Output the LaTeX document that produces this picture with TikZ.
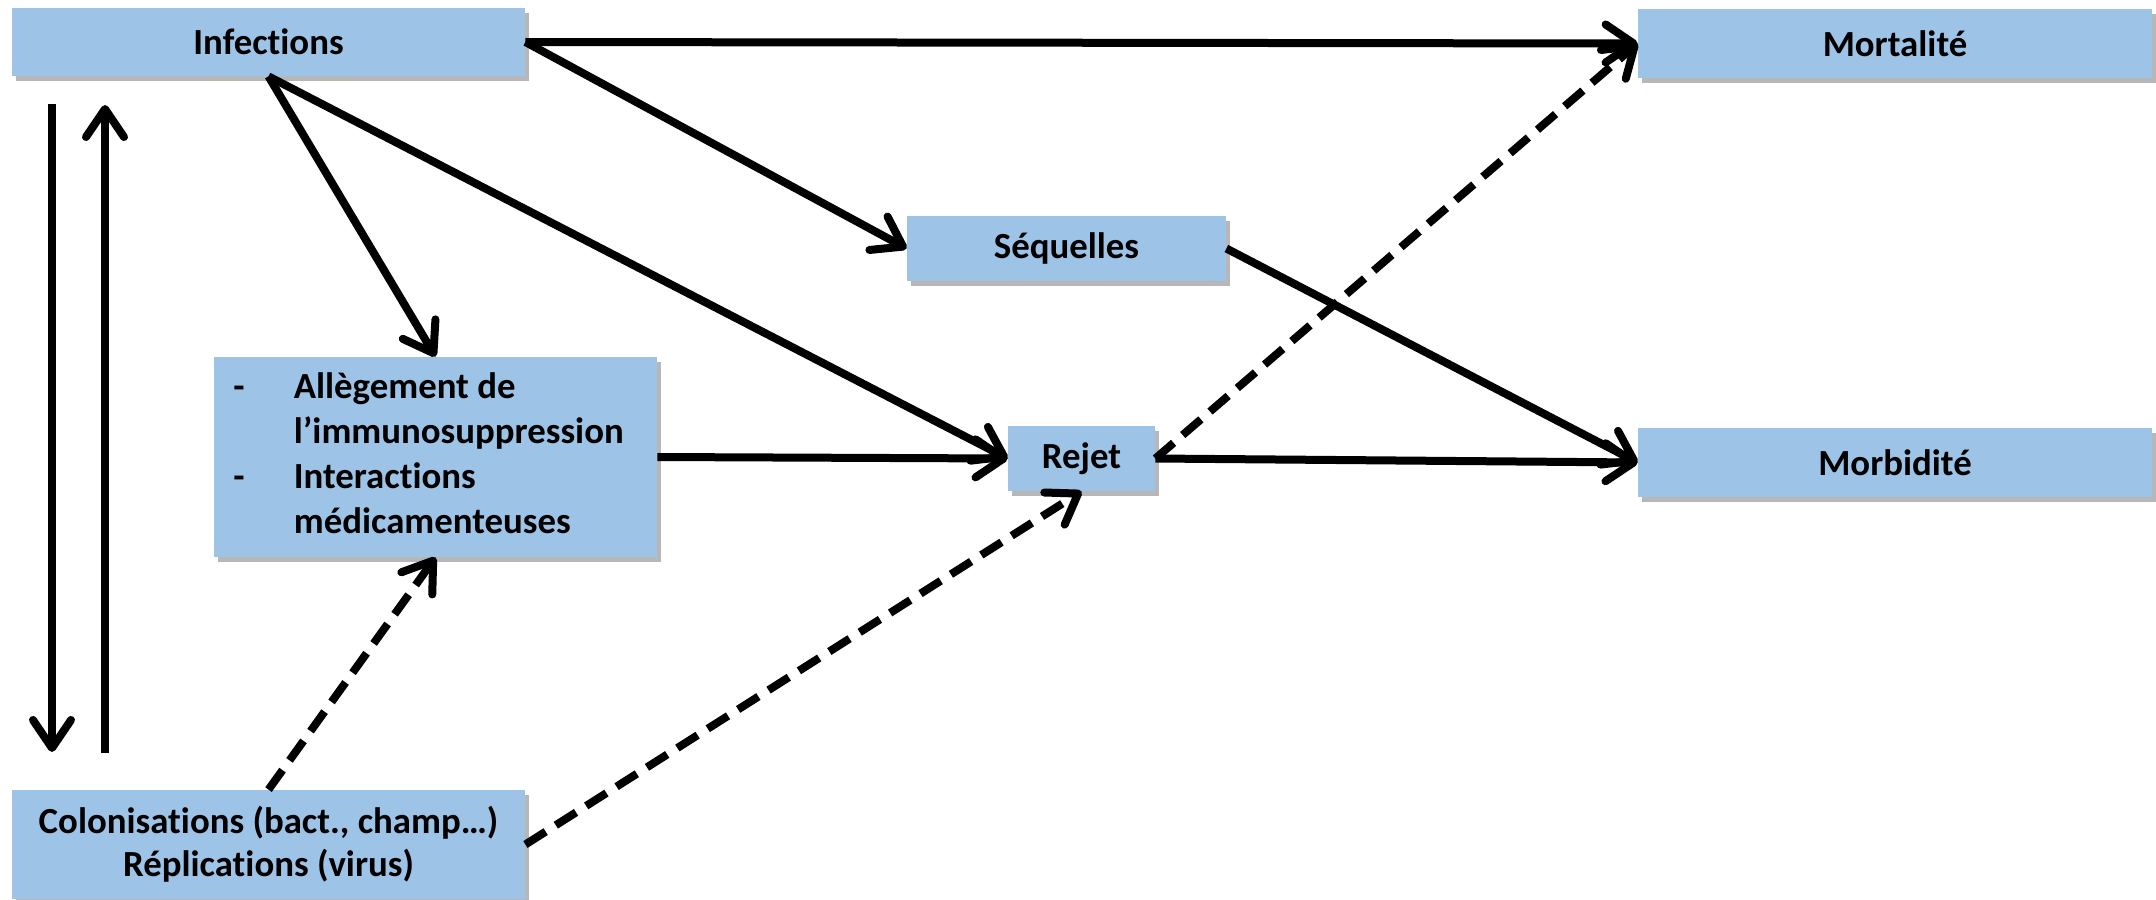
\documentclass[tikz,border=0pt]{standalone}
\usepackage{fontspec}
\setmainfont{Carlito}[Ligatures=NoCommon]
\usetikzlibrary{arrows.meta,shadows}
\definecolor{boxblue}{RGB}{157,195,230}
\begin{document}
\begin{tikzpicture}[x=0.5pt,y=-0.5pt,
  box/.style={fill=boxblue, inner sep=0pt, align=center,
    font=\bfseries\fontsize{18.4}{21.5}\selectfont,
    drop shadow={shadow xshift=2pt, shadow yshift=-2.5pt, opacity=0.4, fill=black!70}},
  sz/.style 2 args={minimum width=#1*0.5pt, minimum height=#2*0.5pt},
  txt/.style={inner sep=0pt, font=\bfseries\fontsize{18.4}{22.5}\selectfont},
  conn/.style={line width=4pt, -{Straight Barb[length=14pt,width=19pt,round]}},
  dsh/.style={conn, dash pattern=on 12pt off 6pt}]
\useasboundingbox (0,0) rectangle (2156,899);
% boxes
\node[box, sz={513}{68}] (inf) at (268.5,42) {Infections};
\node[box, sz={514}{69}] (mort) at (1895,43.5) {Mortalité};
\node[box, sz={319}{65}] (seq) at (1066.5,248.5) {Séquelles};
\node[box, sz={147}{65}] (rej) at (1081.5,458.5) {Rejet};
\node[box, sz={514}{69}] (morb) at (1895,462.5) {Morbidité};
\node[box, sz={443}{200}] (all) at (435.5,457) {};
\node[txt, anchor=west] (alltxt) at (233,457) {\begin{tabular}{@{}l@{\hspace{24.6pt}}l@{}}-&Allègement de\\&l’immunosuppression\\-&Interactions\\&médicamenteuses\end{tabular}};
\node[box, sz={513}{109}] (col) at (268.5,844.5) {Colonisations (bact., champ…)\\Réplications (virus)};
% side arrows
\coordinate (d1) at (52,104);
\coordinate (d2) at (52,752);
\coordinate (u1) at (105,753);
\coordinate (u2) at (105,105);
\draw[conn] (d1) -- (d2);
\draw[conn] (u1) -- (u2);
% solid connectors
\draw[conn] (inf.east) -- (mort.west);
\draw[conn] (inf.east) -- (seq.west);
\draw[conn] (inf.south) -- (all.north);
\draw[conn] (inf.south) -- (rej.west);
\draw[conn] (all.east) -- (rej.west);
\draw[conn] (rej.east) -- (morb.west);
\draw[conn] (seq.east) -- (morb.west);
% dashed connectors
\draw[dsh] (rej.east) -- (mort.west);
\draw[dsh] (col.north) -- (all.south);
\draw[dsh] (col.east) -- (rej.south);
\end{tikzpicture}
\end{document}
